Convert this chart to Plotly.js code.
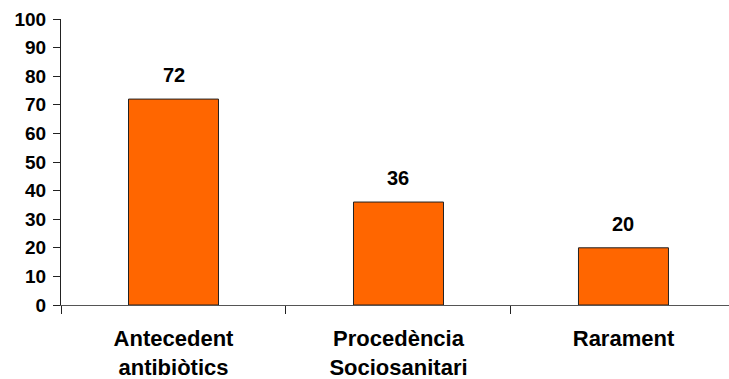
<!DOCTYPE html>
<html><head><meta charset="utf-8">
<script src="https://cdn.plot.ly/plotly-3.0.1.min.js"></script>
<style>html,body{margin:0;padding:0;background:#fff}#chart{width:729px;height:379px}</style>
</head><body><div id="chart"></div>
<script>
const categories = ["Antecedent<br>antibiòtics", "Procedència<br>Sociosanitari", "Rarament"];
const values = [72, 36, 20];
const yTicks = [0,10,20,30,40,50,60,70,80,90,100];

const idx = categories.map((c,i)=>i);
const font = {family: "Liberation Sans, Arial, sans-serif", color: "#000"};

const data = [{
  type: "bar", x: idx, y: values, width: 0.4,
  marker: {color: "#FF6600", line: {color: "#222", width: 1}},
  hoverinfo: "none"
}, {
  type: "scatter", x: [-0.5], y: [0], xaxis: "x2", mode: "markers",
  marker: {opacity: 0}, showlegend: false, hoverinfo: "none"
}];

const annotations = values.map((v,i)=>({
  x: i, y: v, xref: "x", yref: "y", text: "<b>"+v+"</b>", showarrow: false,
  yanchor: "bottom", yshift: 11, font: Object.assign({size: 20}, font)
}));

const layout = {
  width: 729, height: 379,
  margin: {l: 61, r: 0, t: 19, b: 74},
  paper_bgcolor: "#fff", plot_bgcolor: "#fff",
  showlegend: false,
  bargap: 0.6,
  xaxis: {
    range: [-0.5, 2.469], tickvals: idx,
    ticktext: categories.map(c=>"<b>"+c+"</b>"),
    ticks: "", showgrid: false, zeroline: false,
    showline: true, linecolor: "#555", linewidth: 1,
    ticklabelstandoff: 14,
    tickfont: Object.assign({size: 22}, font), fixedrange: true
  },
  xaxis2: {
    overlaying: "x", range: [-0.5, 2.469], anchor: "y",
    tickvals: idx.map(i=>i-0.5), ticks: "outside", ticklen: 8, tickcolor: "#222",
    showticklabels: false, showgrid: false, zeroline: false, showline: false
  },
  yaxis: {
    range: [0, 100], tickvals: yTicks, ticktext: yTicks.map(t=>"<b>"+t+"</b>"),
    ticks: "outside", ticklen: 7, tickcolor: "#222",
    showgrid: false, zeroline: false, showline: true, linecolor: "#222", linewidth: 1,
    tickfont: Object.assign({size: 19}, font), ticklabelstandoff: 3, fixedrange: true
  },
  annotations: annotations
};

Plotly.newPlot("chart", data, layout, {displayModeBar: false, staticPlot: true});
</script></body></html>
